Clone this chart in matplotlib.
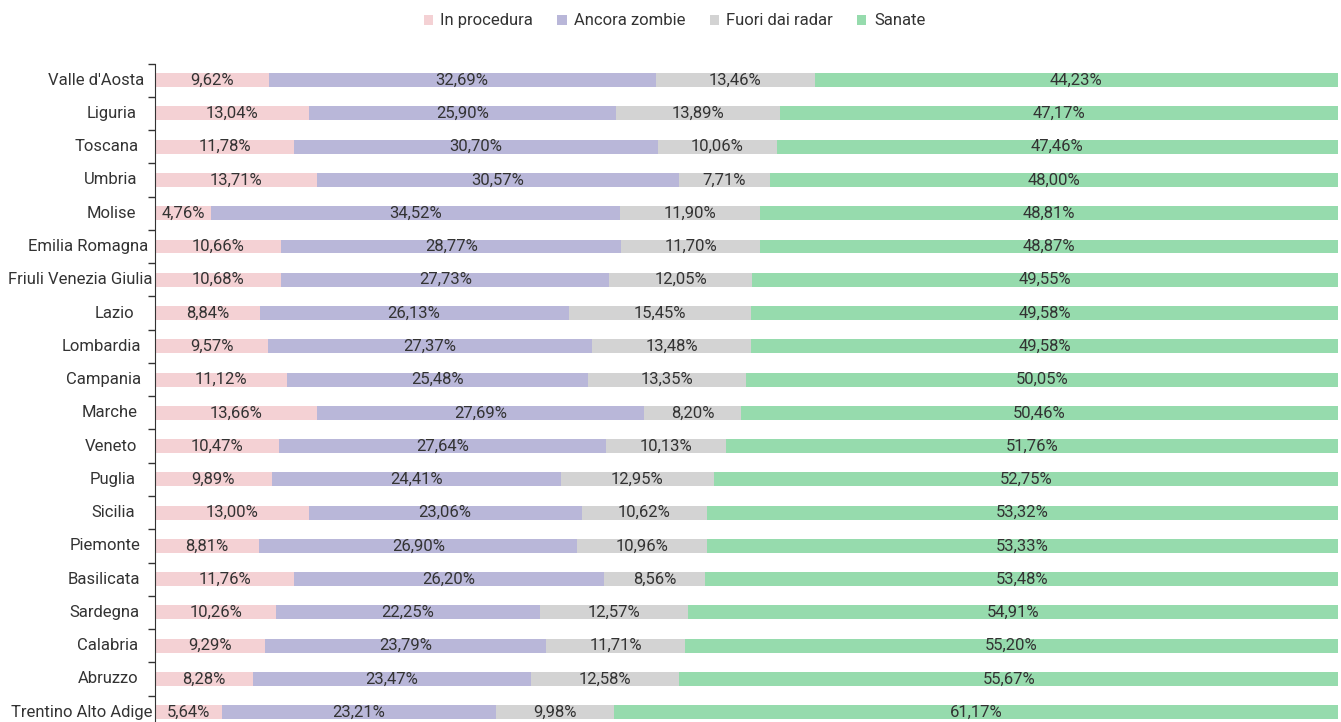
import matplotlib
matplotlib.use("Agg")
import matplotlib.pyplot as plt
import matplotlib.transforms as mtransforms
import numpy as np

# --- DATA ---
regions = ["Valle d'Aosta", "Liguria", "Toscana", "Umbria", "Molise", "Emilia Romagna",
           "Friuli Venezia Giulia", "Lazio", "Lombardia", "Campania", "Marche", "Veneto",
           "Puglia", "Sicilia", "Piemonte", "Basilicata", "Sardegna", "Calabria",
           "Abruzzo", "Trentino Alto Adige"]
in_procedura = [9.62, 13.04, 11.78, 13.71, 4.76, 10.66, 10.68, 8.84, 9.57, 11.12,
                13.66, 10.47, 9.89, 13.00, 8.81, 11.76, 10.26, 9.29, 8.28, 5.64]
ancora_zombie = [32.69, 25.90, 30.70, 30.57, 34.52, 28.77, 27.73, 26.13, 27.37, 25.48,
                 27.69, 27.64, 24.41, 23.06, 26.90, 26.20, 22.25, 23.79, 23.47, 23.21]
fuori_radar = [13.46, 13.89, 10.06, 7.71, 11.90, 11.70, 12.05, 15.45, 13.48, 13.35,
               8.20, 10.13, 12.95, 10.62, 10.96, 8.56, 12.57, 11.71, 12.58, 9.98]
sanate = [44.23, 47.17, 47.46, 48.00, 48.81, 48.87, 49.55, 49.58, 49.58, 50.05,
          50.46, 51.76, 52.75, 53.32, 53.33, 53.48, 54.91, 55.20, 55.67, 61.17]

series = [("In procedura", in_procedura, "#f4d1d4"),
          ("Ancora zombie", ancora_zombie, "#b9b7d9"),
          ("Fuori dai radar", fuori_radar, "#d3d3d3"),
          ("Sanate", sanate, "#96dbad")]

plt.rcParams['font.family'] = ['Roboto', 'DejaVu Sans']
text_col = "#333333"
FS = 12

fig = plt.figure(figsize=(13.41, 7.22), dpi=100)
ax = fig.add_axes([155/1341, -0.0095, (1338-155)/1341, 0.9215])

y = np.arange(len(regions))
left = np.zeros(len(regions))
handles = []
for name, vals, col in series:
    vals = np.array(vals)
    b = ax.barh(y, vals, left=left, height=0.42, color=col, label=name)
    handles.append(b)
    for yi, l, v in zip(y, left, vals):
        ax.text(l + v / 2, yi, f"{v:.2f}%".replace(".", ","), ha="center", va="center",
                fontsize=FS, color=text_col)
    left += vals

ax.set_xlim(0, 100)
ax.set_ylim(len(regions) - 0.5, -0.5)
ax.set_yticks([])
ax.set_yticks(np.arange(len(regions) + 1) - 0.5, minor=True)
ax.tick_params(axis="y", which="minor", length=5, color=text_col, width=1, labelleft=False)
ax.set_xticks([])
for s in ["top", "right", "bottom"]:
    ax.spines[s].set_visible(False)
ax.spines["left"].set_color(text_col)

# category labels: right edge drifts right a bit for longer labels, as in the original
renderer = fig.canvas.get_renderer()
base = mtransforms.blended_transform_factory(ax.transAxes, ax.transData)
for yi, name in zip(y, regions):
    t = ax.text(0, yi, name, ha="right", va="center", fontsize=FS, color=text_col,
                transform=base, clip_on=False)
    w = t.get_window_extent(renderer).width
    shift = -(27 - 0.17 * w)
    t.set_transform(base + mtransforms.ScaledTranslation(shift / 100, 0, fig.dpi_scale_trans))

fig.legend(handles=handles, loc="center", bbox_to_anchor=(0.503, 0.971), ncol=4,
           frameon=False, fontsize=FS, handlelength=0.55, handleheight=0.55,
           handletextpad=0.45, columnspacing=1.45, labelcolor=text_col)

fig.savefig("out.png", dpi=100)
